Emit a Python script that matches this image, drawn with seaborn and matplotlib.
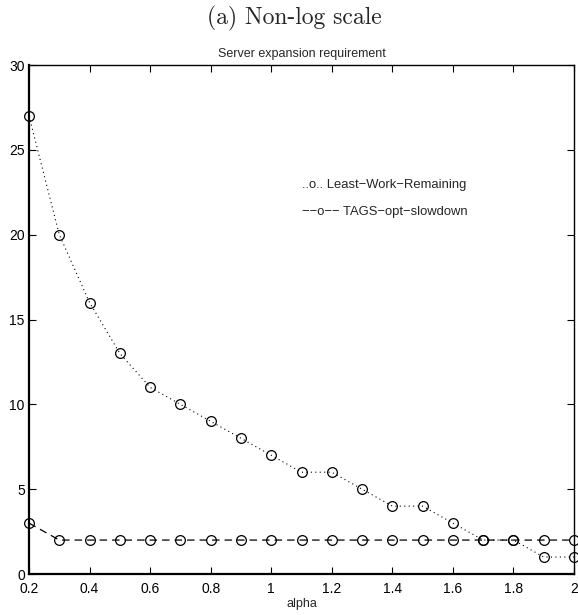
import matplotlib
matplotlib.use("Agg")
import matplotlib.pyplot as plt
import seaborn as sns
import pandas as pd

alpha = [0.2, 0.3, 0.4, 0.5, 0.6, 0.7, 0.8, 0.9, 1.0, 1.1, 1.2, 1.3, 1.4, 1.5, 1.6, 1.7, 1.8, 1.9, 2.0]
lwr = [27, 20, 16, 13, 11, 10, 9, 8, 7, 6, 6, 5, 4, 4, 3, 2, 2, 1, 1]
tags = [3, 2, 2, 2, 2, 2, 2, 2, 2, 2, 2, 2, 2, 2, 2, 2, 2, 2, 2]
xticks = [0.2, 0.4, 0.6, 0.8, 1, 1.2, 1.4, 1.6, 1.8, 2]
xticklabels = ["0.2", "0.4", "0.6", "0.8", "1", "1.2", "1.4", "1.6", "1.8", "2"]
yticks = [0, 5, 10, 15, 20, 25, 30]

sns.set_style("ticks")
plt.rcParams['font.family'] = ['Liberation Sans', 'DejaVu Sans']

df = pd.DataFrame({"alpha": alpha, "lwr": lwr, "tags": tags})

fig = plt.figure(figsize=(5.78, 6.15), dpi=100)
ax = fig.add_axes([29/578, 1-574/615, (574-29)/578, (574-65)/615])

sns.lineplot(data=df, x="alpha", y="lwr", ax=ax, color="k", linestyle=(0, (1, 3)),
             linewidth=0.8, marker="o", markersize=7, markerfacecolor="none",
             markeredgecolor="k", markeredgewidth=0.9, clip_on=False)
sns.lineplot(data=df, x="alpha", y="tags", ax=ax, color="k", linestyle=(0, (6, 4)),
             linewidth=0.9, marker="o", markersize=7, markerfacecolor="none",
             markeredgecolor="k", markeredgewidth=0.9, clip_on=False)

ax.set_xlim(0.2, 2)
ax.set_ylim(0, 30)
ax.set_xticks(xticks)
ax.set_xticklabels(xticklabels)
ax.set_yticks(yticks)
ax.tick_params(direction="in", length=5, width=0.8, labelsize=10, top=True, right=True,
               colors="k")
ax.tick_params(axis="x", pad=6)
ax.tick_params(axis="y", pad=3)
for s in ["left", "bottom"]:
    ax.spines[s].set_linewidth(1.6)
for s in ["top", "right"]:
    ax.spines[s].set_linewidth(1.0)
for s in ax.spines.values():
    s.set_color("k")

ax.set_xlabel("alpha", fontsize=9, labelpad=1)
ax.set_ylabel("")
ax.set_title("Server expansion requirement", fontsize=9, pad=6)

ax.text(0.501, 0.764, "..o.. Least\u2212Work\u2212Remaining", transform=ax.transAxes,
        fontsize=9.4, va="center", ha="left")
ax.text(0.501, 0.711, "\u2212\u2212o\u2212\u2212 TAGS\u2212opt\u2212slowdown", transform=ax.transAxes,
        fontsize=9.4, va="center", ha="left")

fig.text(0.51, 0.97, "(a) Non-log scale", fontsize=17, family=["cmr10", "DejaVu Serif"],
         ha="center", va="center")

fig.savefig("out.png", dpi=100, facecolor="white")
